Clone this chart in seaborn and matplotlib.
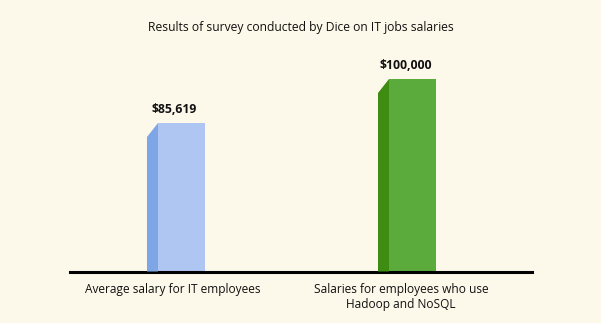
import matplotlib
matplotlib.use("Agg")
import matplotlib.pyplot as plt
import seaborn as sns
import pandas as pd
from matplotlib.patches import Polygon
from matplotlib.transforms import ScaledTranslation

categories = ["Average salary for IT employees", "Salaries for employees who use\nHadoop and NoSQL"]
values = [85619, 100000]
value_labels = ["$85,619", "$100,000"]
front_colors = ["#afc6f2", "#5aab3b"]
side_colors = ["#7ea6e6", "#3e8c12"]
title = "Results of survey conducted by Dice on IT jobs salaries"

bg = "#fdf9ea"
sns.set_theme(style="white")
plt.rcParams["font.family"] = ["Open Sans", "DejaVu Sans"]

fig = plt.figure(figsize=(6.01, 3.23), dpi=100, facecolor=bg)
ax = fig.add_axes([70/601, 51.5/323, 462/601, 241.5/323])
ax.set_facecolor(bg)

df = pd.DataFrame({"cat": categories, "val": values})
sns.barplot(data=df, x="cat", y="val", hue="cat", palette=front_colors,
            width=47/231, ax=ax, legend=False, saturation=1, linewidth=0)
ax.set_xlim(-111.5/231, 1 + 119.5/231)
ax.set_ylim(37090, 37090 + 241.5/0.00306)

# side faces (3D effect), offsets in points
dx, dy = 11 * 0.72, 14 * 0.72
for p, sc in zip(ax.patches, side_colors):
    p.set_edgecolor("none")
    x0 = p.get_x()
    top = p.get_height() + p.get_y()
    bot = ax.get_ylim()[0]
    shift = ScaledTranslation(-dx/72, 0, fig.dpi_scale_trans)
    shift2 = ScaledTranslation(-dx/72, -dy/72, fig.dpi_scale_trans)
    T = ax.transData
    pts = [
        (T + shift).transform((x0, bot)),
        (T + shift2).transform((x0, top)),
        T.transform((x0, top)),
        T.transform((x0, bot)),
    ]
    poly = Polygon(pts, closed=True, facecolor=sc, edgecolor="none",
                   transform=None, zorder=p.get_zorder())
    fig.add_artist(poly)

for p, lab in zip(ax.patches, value_labels):
    cx = p.get_x() + p.get_width() / 2
    top = p.get_y() + p.get_height()
    ax.annotate(lab, (cx, top), xytext=(-5, 5), textcoords="offset points",
                ha="center", va="bottom", fontsize=8.8, fontweight="bold",
                color="#111111")

sns.despine(ax=ax, left=True, top=True, right=True)
ax.spines["bottom"].set_color("black")
ax.spines["bottom"].set_linewidth(2.2)
ax.set_yticks([])
ax.set_xlabel("")
ax.set_ylabel("")
ax.set_xticks([-0.04, 1 - 0.05])
ax.set_xticklabels(categories, fontsize=8.6, color="#111111", linespacing=1.2, va="top")
ax.tick_params(axis="x", length=0, pad=8.5)

fig.text(0.5, 1 - 28/323, title, ha="center", va="center", fontsize=8.7, color="#111111")

fig.savefig("out.png", dpi=100, facecolor=bg)
